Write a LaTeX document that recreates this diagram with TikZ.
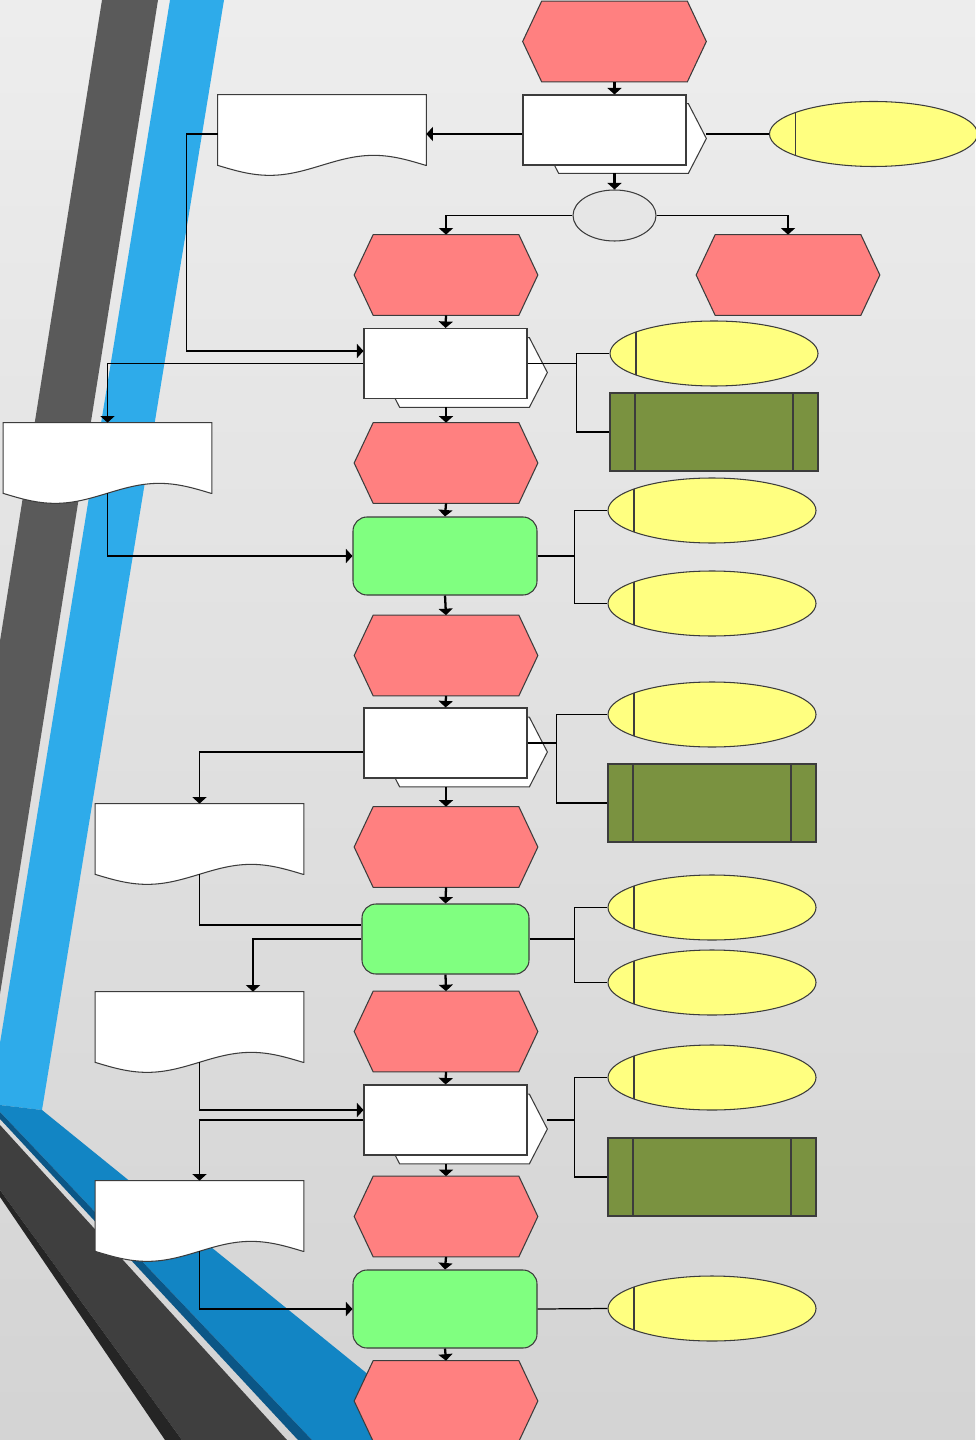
\documentclass[tikz,border=0pt]{standalone}
\usepackage{xcolor}
\usepackage{tikz}
\usetikzlibrary{arrows.meta, positioning, calc, shapes.geometric}

\definecolor{edge}{RGB}{60,60,60}
\definecolor{evred}{RGB}{255,128,128}
\definecolor{funcgreen}{RGB}{128,255,128}
\definecolor{orgyellow}{RGB}{255,255,128}
\definecolor{sysolive}{RGB}{122,146,64}
\definecolor{xorgray}{RGB}{230,230,230}
\definecolor{stripedark}{RGB}{90,90,90}
\definecolor{stripeblue}{RGB}{46,171,234}
\definecolor{stripedeep}{RGB}{18,133,196}
\definecolor{stripenavy}{RGB}{11,86,134}
\definecolor{stripecoal}{RGB}{63,63,63}
\definecolor{stripeblack}{RGB}{37,37,37}

\begin{document}
\begin{tikzpicture}[x=0.2mm, y=-0.2mm,
  evbox/.style={rectangle, minimum width=36.6mm, minimum height=16mm, inner sep=0pt},
  backbox/.style={rectangle, minimum width=33mm, minimum height=13.8mm, inner sep=0pt},
  procbox/.style={rectangle, draw=edge, fill=white, line width=0.6pt, minimum width=32.6mm, minimum height=14mm, inner sep=0pt},
  funcbox/.style={rectangle, rounded corners=2.8mm, draw=edge, fill=funcgreen, line width=0.6pt, minimum width=36.8mm, minimum height=15.6mm, inner sep=0pt},
  orgunit/.style={ellipse, draw=edge, fill=orgyellow, line width=0.6pt, minimum width=41.6mm, minimum height=13mm, inner sep=0pt,
    path picture={\draw[edge, line width=0.6pt] ([xshift=5.2mm]path picture bounding box.north west) -- ([xshift=5.2mm]path picture bounding box.south west);}},
  sysbox/.style={rectangle, draw=edge, fill=sysolive, line width=0.6pt, minimum width=41.6mm, minimum height=15.6mm, inner sep=0pt,
    path picture={\draw[edge, line width=0.6pt] ([xshift=5mm]path picture bounding box.north west) -- ([xshift=5mm]path picture bounding box.south west);
      \draw[edge, line width=0.6pt] ([xshift=-5mm]path picture bounding box.north east) -- ([xshift=-5mm]path picture bounding box.south east);}},
  docbox/.style={rectangle, minimum width=41.6mm, minimum height=14mm, inner sep=0pt},
  xorbox/.style={ellipse, draw=edge, fill=xorgray, line width=0.6pt, minimum width=16.6mm, minimum height=10.2mm, inner sep=0pt},
  flow/.style={-{Triangle[length=1.3mm, width=2.8mm]}, line width=1.3pt, black},
  link/.style={line width=0.7pt, black},
  linkto/.style={link, -{Triangle[length=1.3mm, width=2.8mm]}}
]
\useasboundingbox (0,0) rectangle (975,1440);
% backdrop and slanted bands
\fill[top color=black!7, bottom color=black!17] (0,0) rectangle (975,1440);
\fill[stripedark] (102,0) -- (158,0) -- (0,994) -- (0,641) -- cycle;
\fill[stripeblue] (170,0) -- (224,0) -- (42,1110) -- (0,1105) -- (0,1043) -- cycle;
\fill[stripedeep] (0,1105) -- (42,1110) -- (449,1440) -- (312,1440) -- (0,1112) -- cycle;
\fill[stripenavy] (0,1112) -- (312,1440) -- (298,1440) -- (0,1119) -- cycle;
\fill[stripecoal] (0,1125) -- (287,1440) -- (182,1440) -- (0,1190) -- cycle;
\fill[stripeblack] (0,1190) -- (182,1440) -- (165,1440) -- (0,1197) -- cycle;

% events
\node[evbox] (e0) at (614.5,41.5) {};
\node[evbox] (e1) at (446,275) {};
\node[evbox] (e2) at (788,275) {};
\node[evbox] (e3) at (446,463) {};
\node[evbox] (e4) at (446,655.5) {};
\node[evbox] (e5) at (446,847) {};
\node[evbox] (e6) at (446,1031.5) {};
\node[evbox] (e7) at (446,1216.5) {};
\node[evbox] (e8) at (446,1401) {};
\foreach \n in {e0,e1,e2,e3,e4,e5,e6,e7,e8}
  \filldraw[fill=evred, draw=edge, line width=0.6pt] ([xshift=3.8mm]\n.north west) -- ([xshift=-3.8mm]\n.north east) -- (\n.east)
    -- ([xshift=-3.8mm]\n.south east) -- ([xshift=3.8mm]\n.south west) -- (\n.west) -- cycle;

% processes: shadow shape first, then the box
\node[backbox] (f1b) at (623.5,138.5) {};
\node[backbox] (f2b) at (464.5,372.5) {};
\node[backbox] (f3b) at (464.5,752) {};
\node[backbox] (f4b) at (464.5,1129) {};
\foreach \n in {f1b,f2b,f3b,f4b}
  \filldraw[fill=white, draw=edge, line width=0.6pt] ([xshift=3.6mm]\n.north west) -- ([xshift=-3.6mm]\n.north east) -- (\n.east)
    -- ([xshift=-3.6mm]\n.south east) -- ([xshift=3.6mm]\n.south west) -- (\n.west) -- cycle;
\node[procbox] (f1) at (604.5,130) {};
\node[procbox] (f2) at (445.5,363.5) {};
\node[procbox] (f3) at (445.5,743) {};
\node[procbox] (f4) at (445.5,1120) {};

\node[funcbox] (g1) at (445,556) {};
\node[funcbox, minimum width=33.4mm, minimum height=14mm] (g2) at (445.5,939) {};
\node[funcbox] (g3) at (445,1309) {};

\node[xorbox] (xor) at (614.5,215.5) {};

% organisational units and systems
\node[orgunit] (y1) at (873.5,134) {};
\node[orgunit] (y2) at (714,353.5) {};
\node[orgunit] (y3) at (712,510.5) {};
\node[orgunit] (y4) at (712,603.5) {};
\node[orgunit] (y5) at (712,714.5) {};
\node[orgunit] (y6) at (712,907.5) {};
\node[orgunit] (y7) at (712,982.5) {};
\node[orgunit] (y8) at (712,1077.5) {};
\node[orgunit] (y9) at (712,1308.5) {};
\node[sysbox] (r1) at (714,432) {};
\node[sysbox] (r2) at (712,803) {};
\node[sysbox] (r3) at (712,1177) {};

% documents with wavy bottom
\node[docbox] (d1) at (322,130) {};
\node[docbox] (d2) at (107.5,458) {};
\node[docbox] (d3) at (199.5,839) {};
\node[docbox] (d4) at (199.5,1027) {};
\node[docbox] (d5) at (199.5,1216) {};
\foreach \n in {d1,d2,d3,d4,d5}
  \filldraw[fill=white, draw=edge, line width=0.6pt] (\n.south east) -- (\n.north east) -- (\n.north west) -- (\n.south west)
    sin ++(52,10) cos ++(52,-10) sin ++(52,-10) cos ++(52,10) -- cycle;

% main flow
\draw[flow] (e0.south) -- (e0.south |- f1.north);
\draw[flow] (xor.north |- f1b.south) -- (xor.north);
\draw[linkto] (xor.west) -| (e1.north);
\draw[linkto] (xor.east) -| (e2.north);
\draw[flow] (e1.south) -- (f2.north);
\draw[flow] (e3.north |- f2b.south) -- (e3.north);
\draw[flow] (e3.south) -- (g1.north);
\draw[flow] (g1.south) -- (e4.north);
\draw[flow] (e4.south) -- (f3.north);
\draw[flow] (e5.north |- f3b.south) -- (e5.north);
\draw[flow] (e5.south) -- (g2.north);
\draw[flow] (g2.south) -- (e6.north);
\draw[flow] (e6.south) -- (f4.north);
\draw[flow] (e7.north |- f4b.south) -- (e7.north);
\draw[flow] (e7.south) -- (g3.north);
\draw[flow] (g3.south) -- (e8.north);

% documents in and out
\draw[linkto] (f1.west |- y1.west) -- (d1.east |- y1.west);
\draw[linkto] (d1.west |- y1.west) -- ++(-31,0) |- ([yshift=2.5mm]f2.west);
\draw[linkto] (f2.west) -| (d2.north);
\draw[linkto] (d2.south) |- (g1.west);
\draw[linkto] (f3.west |- f3b.west) -| (d3.north);
\draw[link] (d3.south) |- ([yshift=2.8mm]g2.west);
\draw[linkto] (g2.west) -| ([xshift=10.7mm]d4.north);
\draw[linkto] (d4.south) |- ([yshift=2mm]f4.west);
\draw[linkto] (f4.west) -| (d5.north);
\draw[linkto] (d5.south) |- (g3.west);

% units and systems on the right
\draw[link] (f1b.east |- y1.west) -- (y1.west);
\draw[link] (f2.east) -- ([xshift=-6.6mm]y2.west |- f2.east);
\draw[link] (y2.west) -- ++(-33,0) |- (r1.west);
\draw[link] (g1.east) -- ([xshift=-6.6mm]y3.west |- g1.east);
\draw[link] (y3.west) -- ++(-33,0) |- (y4.west);
\draw[link] (f3.east) -- ([xshift=-10.2mm]y5.west |- f3.east);
\draw[link] (y5.west) -- ++(-51,0) |- (r2.west);
\draw[link] (g2.east) -- ([xshift=-6.6mm]y6.west |- g2.east);
\draw[link] (y6.west) -- ++(-33,0) |- (y7.west);
\draw[link] (f4b.east |- f4.east) -- ([xshift=-6.6mm]y8.west |- f4.east);
\draw[link] (y8.west) -- ++(-33,0) |- (r3.west);
\draw[link] (g3.east) -- (y9.west);
\end{tikzpicture}
\end{document}
